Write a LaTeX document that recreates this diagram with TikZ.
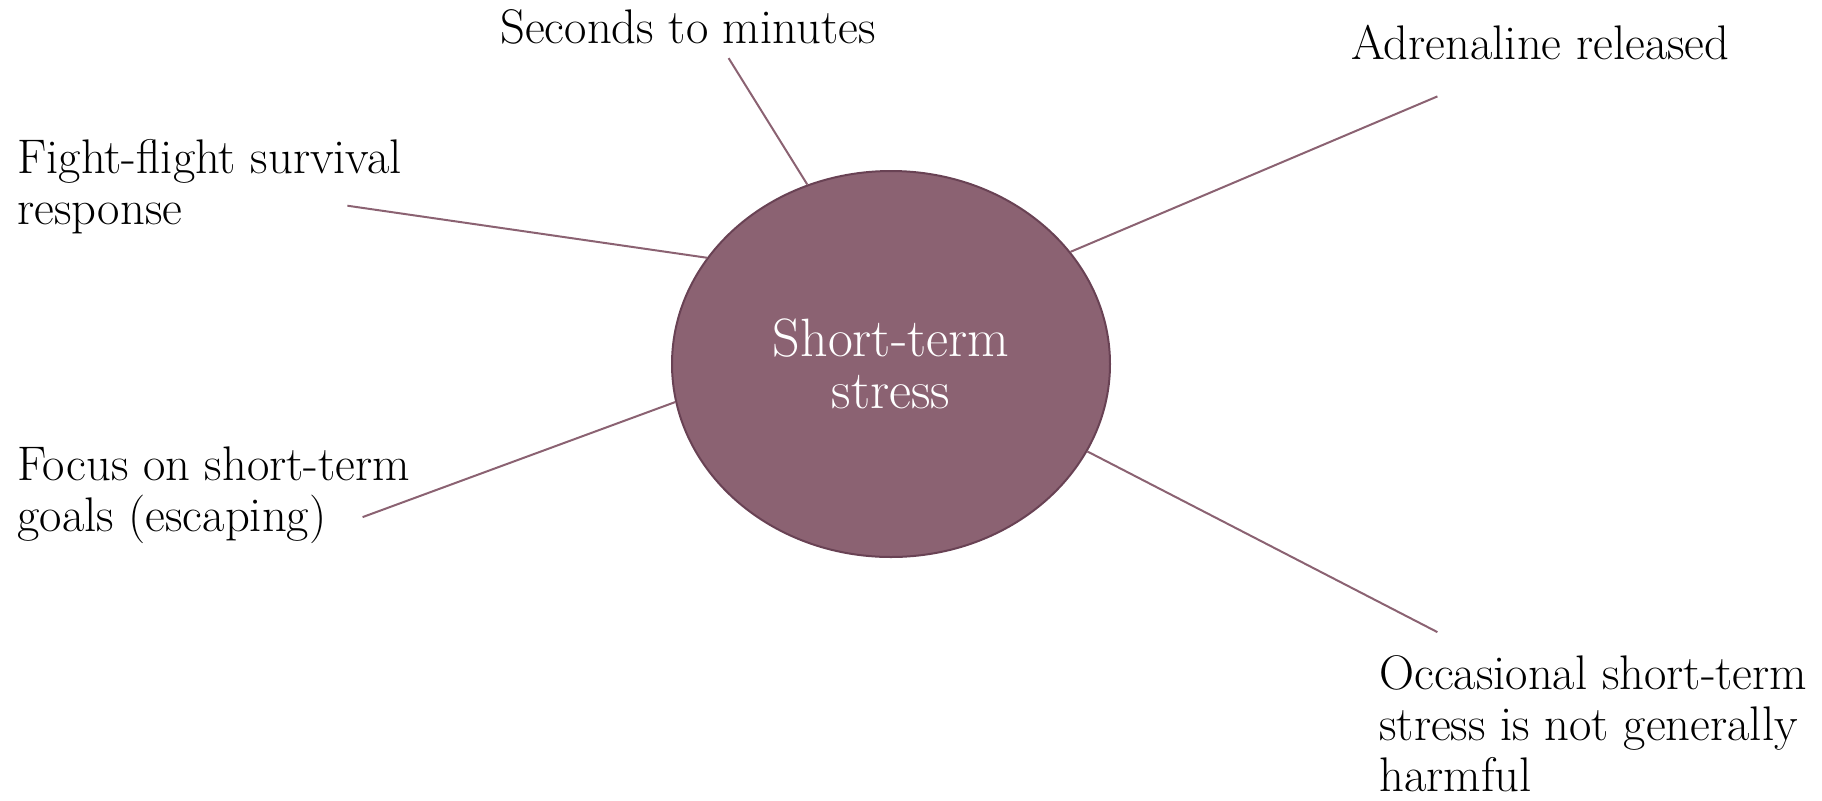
\documentclass[tikz,border=0pt]{standalone}
\usetikzlibrary{shapes.geometric}
\definecolor{plum}{RGB}{139,98,114}
\definecolor{plumdark}{RGB}{105,66,84}
\begin{document}
\begin{tikzpicture}[x=0.5pt,y=-0.5pt,
  lbl/.style={anchor=base west,inner sep=0pt,align=left,font=\fontsize{24.3pt}{25.5pt}\selectfont},
  conn/.style={draw=plum,line width=1pt},
  hub/.style={ellipse,draw=plumdark,line width=1pt,fill=plum,minimum width=219pt,minimum height=193pt,inner sep=0pt,text=white,align=center,font=\fontsize{27pt}{26pt}\selectfont}]
\useasboundingbox (0,0) rectangle (1822,800);
\node[hub] (c) at (891,364) {};
\node[text=white,align=center,inner sep=0pt,anchor=base,font=\fontsize{27pt}{26pt}\selectfont] (ct) at (891,408) {Short-term\\stress};
\node[lbl] (t1) at (500,43) {Seconds to minutes};
\node[lbl] (t2) at (1351,59) {Adrenaline released};
\node[lbl] (t3) at (17,224) {Fight-flight survival\\response};
\node[lbl] (t4) at (17,531) {Focus on short-term\\goals (escaping)};
\node[lbl] (t5) at (1379,791) {Occasional short-term\\stress is not generally\\harmful};
\coordinate (e1) at (728.6,58.1);
\coordinate (e2) at (1437.4,96.4);
\coordinate (e3) at (347.4,205.7);
\coordinate (e4) at (362.6,517.1);
\coordinate (e5) at (1437.4,632.1);
\draw[conn] (e1) -- (c.115.3);
\draw[conn] (e2) -- (c.32.2);
\draw[conn] (e3) -- (c.150.7);
\draw[conn] (e4) -- (c.190.7);
\draw[conn] (e5) -- (c.336.3);
\end{tikzpicture}
\end{document}
